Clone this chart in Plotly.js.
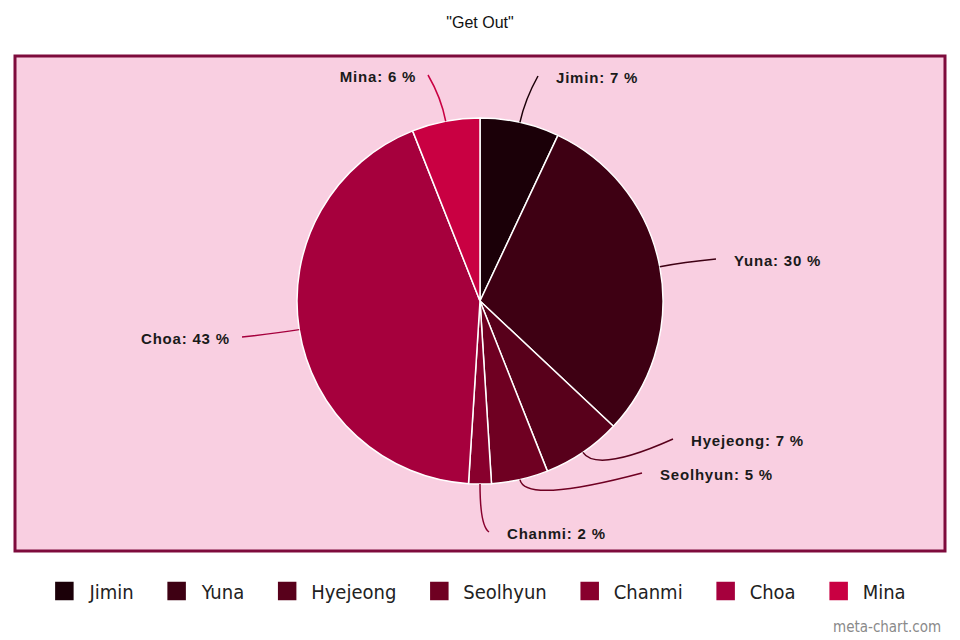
<!DOCTYPE html>
<html>
<head>
<meta charset="utf-8">
<script src="https://cdn.plot.ly/plotly-3.0.1.min.js"></script>
<style>
  html, body { margin: 0; padding: 0; background: #ffffff; }
  #chart { width: 960px; height: 640px; }
</style>
</head>
<body>
<div id="chart"></div>
<script>
// Share of lines per member, song "Get Out"
const members = ['Jimin', 'Yuna', 'Hyejeong', 'Seolhyun', 'Chanmi', 'Choa', 'Mina'];
const shares = [7, 30, 7, 5, 2, 43, 6];
const sliceColors = ['#1b0008', '#3e0013', '#58001b', '#6f0022', '#88002d', '#a6003d', '#c90042'];
const chartTitle = '"Get Out"';
const watermark = 'meta-chart.com';

// Pie geometry in page pixels (960 x 640 canvas)
const W = 960, H = 640;
const CX = 480, CY = 301, R = 183;

// Where each leader line ends, next to its label
const labelEnds = [[538, 76], [716, 259], [673, 439], [642, 473], [489, 532], [242, 337], [428, 75]];
const elbowOut = [24, 24, 25, 25, 42, 24, 24];

const total = shares.reduce((a, b) => a + b, 0);

const shapes = [
  {
    type: 'rect', xref: 'x', yref: 'y', layer: 'below',
    x0: 15, x1: 945, y0: 56, y1: 551,
    fillcolor: '#f9cfe1', line: { color: '#7e0b3c', width: 3 }
  }
];
const annotations = [];
const labelSides = [];

let cum = 0;
shares.forEach((v, i) => {
  const mid = (cum + v / 2) / total * 2 * Math.PI; // clockwise from 12 o'clock
  cum += v;
  const sx = CX + R * Math.sin(mid), sy = CY - R * Math.cos(mid);
  const r2 = R + elbowOut[i];
  const mx = CX + r2 * Math.sin(mid), my = CY - r2 * Math.cos(mid);
  const [ex, ey] = labelEnds[i];
  shapes.push({
    type: 'path', xref: 'x', yref: 'y', layer: 'above',
    path: `M${sx},${sy} Q${mx},${my} ${ex},${ey}`,
    line: { color: sliceColors[i], width: 1.5 }
  });
  const rightSide = ex > CX;
  labelSides.push(rightSide);
  annotations.push({
    xref: 'x', yref: 'y', showarrow: false,
    x: rightSide ? ex + 16 : ex - 10, y: ey + 1,
    xanchor: rightSide ? 'left' : 'right', yanchor: 'middle',
    text: `<b>${members[i]}: ${v} %</b>`,
    font: { family: 'Liberation Sans, Arial, sans-serif', size: 15, color: '#1a1a1a' }
  });
});

annotations.push({
  xref: 'x', yref: 'y', showarrow: false,
  x: 943, y: 627, xanchor: 'right', yanchor: 'middle',
  text: watermark,
  font: { family: 'DejaVu Sans Condensed, Liberation Sans Narrow, sans-serif', size: 15, color: '#8a8a8a' }
});

const pie = {
  type: 'pie',
  labels: members,
  values: shares,
  sort: false,
  direction: 'clockwise',
  rotation: 0,
  textinfo: 'none',
  hoverinfo: 'label+percent',
  marker: { colors: sliceColors, line: { color: '#ffffff', width: 1.5 } },
  domain: {
    x: [(CX - R) / W, (CX + R) / W],
    y: [1 - (CY + R) / H, 1 - (CY - R) / H]
  }
};

const layout = {
  width: W, height: H,
  margin: { l: 0, r: 0, t: 0, b: 0 },
  paper_bgcolor: '#ffffff',
  plot_bgcolor: 'rgba(0,0,0,0)',
  title: {
    text: chartTitle,
    font: { family: 'Liberation Sans, Arial, sans-serif', size: 16, color: '#111111' },
    x: 0.5, xanchor: 'center', y: 1 - 22 / H, yanchor: 'middle', yref: 'paper'
  },
  xaxis: { range: [0, W], visible: false, fixedrange: true, domain: [0, 1] },
  yaxis: { range: [H, 0], visible: false, fixedrange: true, domain: [0, 1] },
  showlegend: true,
  legend: {
    orientation: 'h',
    x: 0.5, xanchor: 'center',
    y: 1 - 591 / H, yanchor: 'middle',
    bgcolor: 'rgba(0,0,0,0)',
    font: { family: 'DejaVu Sans Condensed, Liberation Sans Narrow, sans-serif', size: 20, color: '#222222' },
    itemwidth: 30,
    traceorder: 'normal'
  },
  shapes: shapes,
  annotations: annotations
};

// legend spacing: swatch, gap to its text, gap to the next swatch
const SWATCH = 20, TEXT_GAP = 14, ITEM_GAP = 33;

function tuneLegend() {
  const root = document.getElementById('chart');
  const box = root.querySelector('.legend .scrollbox');
  if (box) box.removeAttribute('clip-path');
  const items = Array.from(root.querySelectorAll('.legend .traces'));
  if (!items.length) return;
  const readT = el => {
    const m = /translate\(\s*([-\d.e]+)[ ,]+([-\d.e]+)\s*\)/.exec(el.getAttribute('transform') || '');
    return m ? [parseFloat(m[1]), parseFloat(m[2])] : [0, 0];
  };
  const widths = [];
  items.forEach(it => {
    const path = it.querySelector('.legendpoints path');
    path.setAttribute('d', `M${SWATCH / 2},${SWATCH / 2}H${-SWATCH / 2}V${-SWATCH / 2}H${SWATCH / 2}Z`);
    const txt = it.querySelector('.legendtext');
    const sw = path.getBoundingClientRect();
    const tr = txt.getBoundingClientRect();
    const shift = (sw.right + TEXT_GAP) - tr.left;
    txt.setAttribute('x', parseFloat(txt.getAttribute('x') || 0) + shift);
    txt.querySelectorAll('tspan[x]').forEach(t => t.setAttribute('x', parseFloat(t.getAttribute('x')) + shift));
    widths.push(SWATCH + TEXT_GAP + tr.width);
  });
  const span = widths.reduce((a, b) => a + b, 0) + ITEM_GAP * (widths.length - 1);
  const firstLeft = items[0].querySelector('.legendpoints path').getBoundingClientRect().left;
  const [x0] = readT(items[0]);
  let pos = x0 + (W / 2 - span / 2 - firstLeft);
  items.forEach((it, i) => {
    const [, y] = readT(it);
    it.setAttribute('transform', `translate(${pos},${y})`);
    pos += widths[i] + ITEM_GAP;
  });
}

// slightly tracked label lettering, keeping each label on its anchor side
function trackLabels() {
  const texts = Array.from(document.querySelectorAll('#chart .annotation .annotation-text'));
  texts.slice(0, members.length).forEach((t, i) => {
    const before = t.getBoundingClientRect();
    t.style.letterSpacing = '0.8px';
    const after = t.getBoundingClientRect();
    const delta = labelSides[i] ? before.left - after.left : before.right - after.right;
    t.setAttribute('x', parseFloat(t.getAttribute('x') || 0) + delta);
  });
}

Plotly.newPlot('chart', [pie], layout, { displayModeBar: false, staticPlot: true }).then(() => {
  tuneLegend();
  trackLabels();
});
</script>
</body>
</html>
